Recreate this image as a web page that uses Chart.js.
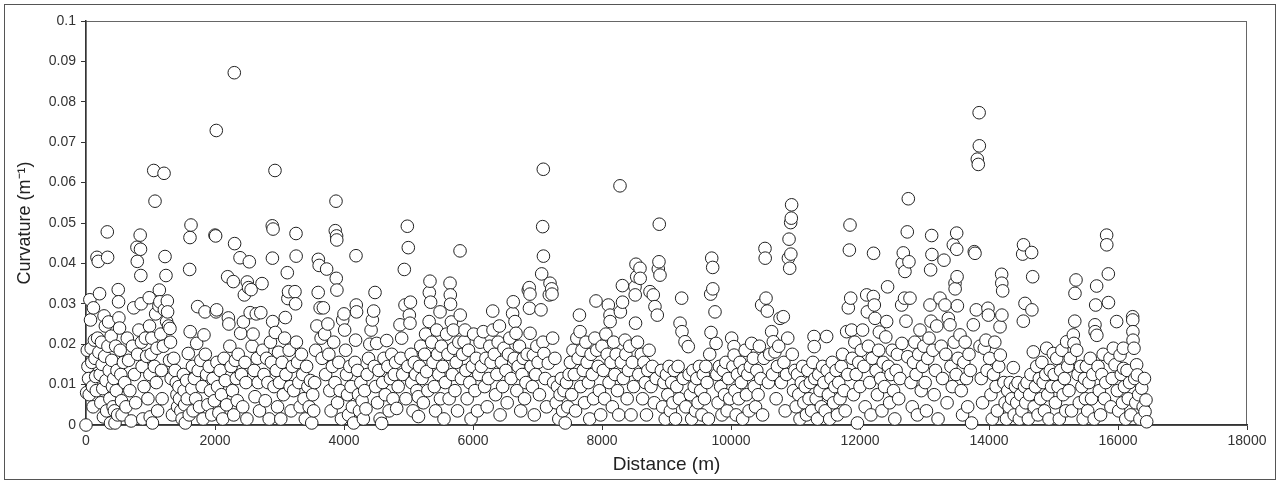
<!DOCTYPE html>
<html>
<head>
<meta charset="utf-8">
<script src="https://cdn.jsdelivr.net/npm/chart.js@4.4.0/dist/chart.umd.min.js"></script>
<style>
  html, body { margin: 0; padding: 0; background: #fff; }
  canvas { display: block; }
</style>
</head>
<body>
<canvas id="curvatureChart" width="1277" height="481"></canvas>
<script>
// [distance (m), curvature (1/m)], one list per ~4 km
const section1 = [
  [0,0],[10,0.008],[20,0.0185],[30,0.0145],[40,0.0115],[50,0.0075],[60,0.031],[70,0.026],[80,0.019],[90,0.0155],[100,0.0095],[110,0.0045],[115,0.029],[130,0.021],[140,0.0165],[150,0.012],[160,0.0085],[170,0.0415],[180,0.0215],[190,0.0405],[200,0.018],[210,0.0325],[220,0.0125],[230,0.0055],[240,0.0205],[250,0.015],[260,0.009],[270,0.002],[280,0.027],[290,0.017],[300,0.0245],[310,0.011],[320,0.0035],[330,0.0478],[335,0.0415],[340,0.0195],[350,0.0255],[360,0.0135],[370,0.0065],[380,0.0005],[390,0.022],[400,0.016],[410,0.0095],[420,0.0045],[430,0.0115],[440,0.0035],[450,0.0005],[460,0.0195],[470,0.0085],[480,0.0135],[490,0.0025],
  [500,0.0335],[505,0.0305],[510,0.0265],[520,0.024],[530,0.0185],[540,0.0125],[550,0.006],[560,0.0025],[580,0.0155],[600,0.0105],[620,0.0045],[640,0.0215],[660,0.016],[680,0.0085],[700,0.001],[720,0.0195],[740,0.029],[750,0.0125],[770,0.0055],[790,0.044],[795,0.0405],[800,0.0175],[820,0.0235],[840,0.047],[845,0.0435],[850,0.037],[855,0.030],[860,0.0205],[870,0.0145],[880,0.0015],[900,0.0095],[920,0.0215],[940,0.017],[960,0.0065],[980,0.0315],[985,0.0245],[990,0.0125],[995,0.002],
  [1010,0.0175],[1020,0.0215],[1030,0.0005],[1050,0.063],[1060,0.0145],[1070,0.0554],[1080,0.0275],[1090,0.0105],[1100,0.019],[1110,0.0035],[1130,0.0295],[1137,0.0334],[1145,0.0305],[1160,0.0225],[1170,0.0135],[1180,0.0065],[1200,0.0195],[1210,0.0623],[1215,0.0285],[1225,0.0417],[1240,0.037],[1250,0.0256],[1261,0.0307],[1265,0.028],[1280,0.0245],[1295,0.016],[1302,0.0239],[1310,0.0205],[1320,0.0115],[1340,0.0025],[1360,0.0165],[1380,0.0135],[1400,0.0105],[1410,0.0075],[1420,0.0045],[1440,0.0095],[1450,0.0065],[1470,0.0035],[1490,0.0015],
  [1510,0.0125],[1520,0.0085],[1530,0.005],[1540,0.0005],[1560,0.011],[1570,0.0065],[1586,0.0177],[1600,0.0025],[1607,0.0385],[1612,0.0464],[1615,0.0231],[1628,0.0495],[1640,0.009],[1650,0.0145],[1660,0.0035],[1680,0.0115],[1700,0.0065],[1716,0.0202],[1731,0.0293],[1740,0.0135],[1760,0.0045],[1780,0.016],[1800,0.0095],[1815,0.0015],[1829,0.0223],[1845,0.028],[1850,0.0175],[1870,0.0125],[1890,0.005],[1910,0.0145],[1930,0.0085],[1950,0.0025],[1970,0.0115],[1990,0.006],
  [2000,0.047],[2010,0.0468],[2016,0.028],[2020,0.0729],[2026,0.0285],[2030,0.0155],[2040,0.0095],[2060,0.003],[2080,0.0135],[2100,0.0075],[2120,0.0015],[2140,0.0165],[2160,0.011],[2180,0.005],[2196,0.0367],[2207,0.0265],[2215,0.025],[2230,0.0195],[2250,0.0145],[2270,0.0085],[2284,0.0355],[2290,0.0025],[2299,0.0872],[2304,0.0449],[2315,0.016],[2330,0.0115],[2345,0.006],[2360,0.0175],[2388,0.0414],[2398,0.0227],[2410,0.0125],[2430,0.0045],[2440,0.0255],[2455,0.0322],[2465,0.0155],[2480,0.0105],[2495,0.0015],
  [2500,0.0354],[2520,0.034],[2532,0.0404],[2545,0.0278],[2560,0.0335],[2575,0.0195],[2590,0.0225],[2605,0.0135],[2620,0.007],[2640,0.0275],[2655,0.0165],[2670,0.0105],[2690,0.0035],[2710,0.0278],[2729,0.035],[2740,0.0185],[2760,0.0125],[2780,0.006],[2800,0.0165],[2820,0.0105],[2840,0.0015],[2860,0.0205],[2875,0.0155],[2888,0.0493],[2890,0.0413],[2894,0.0256],[2900,0.0485],[2915,0.0095],[2930,0.063],[2935,0.0229],[2950,0.0135],[2970,0.0045],[2985,0.018],
  [3000,0.0105],[3020,0.0015],[3040,0.0155],[3060,0.0075],[3080,0.0215],[3090,0.0266],[3100,0.0125],[3121,0.0377],[3130,0.0313],[3140,0.033],[3150,0.0185],[3165,0.0095],[3180,0.0035],[3200,0.0145],[3220,0.0085],[3240,0.033],[3250,0.030],[3256,0.0474],[3258,0.0418],[3262,0.0205],[3280,0.0155],[3300,0.0105],[3320,0.0045],[3340,0.0175],[3360,0.0125],[3380,0.0065],[3400,0.0015],[3420,0.0145],[3440,0.0095],[3460,0.0045],[3480,0.011],
  [3500,0.0005],[3515,0.0075],[3530,0.0035],[3545,0.0105],[3560,0.0185],[3580,0.0245],[3600,0.0328],[3602,0.041],[3615,0.0395],[3630,0.029],[3645,0.0215],[3660,0.0165],[3680,0.029],[3700,0.0225],[3715,0.0125],[3731,0.0386],[3750,0.025],[3765,0.0175],[3780,0.0085],[3800,0.0035],[3820,0.0145],[3840,0.0205],[3860,0.0105],[3865,0.0481],[3876,0.0554],[3880,0.0363],[3885,0.0468],[3888,0.0458],[3890,0.0334],[3900,0.0055],[3920,0.0155],[3940,0.0085],[3960,0.0015],[3980,0.026]
];

const section2 = [
  [4000,0.0275],[4010,0.0235],[4025,0.0185],[4040,0.0125],[4055,0.0075],[4070,0.0025],[4090,0.0145],[4110,0.0095],[4130,0.0045],[4150,0.0005],[4170,0.0155],[4180,0.021],[4186,0.0419],[4190,0.0297],[4195,0.028],[4210,0.0135],[4225,0.0075],[4240,0.0035],[4260,0.0105],[4280,0.006],[4300,0.0015],[4320,0.0085],[4340,0.004],[4360,0.0125],[4380,0.0165],[4400,0.02],[4420,0.0235],[4440,0.026],[4460,0.0282],[4470,0.0145],[4481,0.0328],[4490,0.0095],
  [4506,0.0202],[4520,0.0055],[4540,0.0135],[4560,0.0015],[4584,0.0004],[4600,0.0105],[4620,0.0165],[4640,0.0075],[4662,0.0209],[4680,0.0145],[4700,0.0035],[4720,0.0115],[4740,0.0175],[4760,0.0065],[4780,0.0125],[4800,0.0155],[4817,0.0041],[4840,0.0095],[4868,0.0248],[4880,0.0165],[4894,0.0215],[4910,0.0125],[4935,0.0385],[4946,0.0297],[4960,0.0065],[4982,0.0492],[4990,0.0145],[4997,0.0439],
  [5013,0.0272],[5023,0.0252],[5030,0.0304],[5040,0.0175],[5050,0.0105],[5070,0.0035],[5090,0.0155],[5110,0.0125],[5130,0.0085],[5152,0.007],[5155,0.0021],[5170,0.0145],[5190,0.0195],[5210,0.0115],[5230,0.0055],[5250,0.0175],[5265,0.0225],[5281,0.0132],[5300,0.0085],[5320,0.0256],[5323,0.0328],[5333,0.0356],[5343,0.0304],[5360,0.0205],[5380,0.0155],[5400,0.0095],[5420,0.0035],[5437,0.0235],[5450,0.0175],[5470,0.0125],[5489,0.028],[5495,0.0065],
  [5510,0.0195],[5530,0.0145],[5550,0.0015],[5570,0.0105],[5590,0.0225],[5610,0.0175],[5630,0.0065],[5644,0.0351],[5648,0.0322],[5652,0.0299],[5665,0.0255],[5680,0.0125],[5695,0.0235],[5700,0.019],[5720,0.0085],[5740,0.0155],[5760,0.0035],[5780,0.0205],[5799,0.0431],[5802,0.0272],[5820,0.0115],[5840,0.0175],[5861,0.0206],[5876,0.0235],[5890,0.0135],[5910,0.0065],[5930,0.0185],[5950,0.0105],[5970,0.0015],[5990,0.0145],
  [6010,0.0225],[6030,0.0085],[6050,0.0165],[6070,0.0035],[6090,0.0125],[6110,0.0205],[6130,0.0145],[6160,0.0231],[6180,0.0095],[6200,0.0165],[6220,0.0045],[6240,0.0115],[6260,0.0195],[6280,0.0155],[6306,0.0282],[6310,0.0235],[6330,0.0175],[6350,0.0075],[6370,0.0125],[6390,0.0205],[6410,0.0245],[6420,0.0025],[6440,0.0155],[6460,0.0095],[6480,0.019],
  [6510,0.0135],[6530,0.0055],[6550,0.0175],[6570,0.0215],[6590,0.0115],[6614,0.0276],[6624,0.0305],[6640,0.0165],[6651,0.0256],[6667,0.0227],[6680,0.0085],[6700,0.0145],[6720,0.0195],[6740,0.0035],[6760,0.0125],[6780,0.0165],[6800,0.0065],[6820,0.0105],[6840,0.0175],[6857,0.0334],[6872,0.034],[6875,0.0289],[6883,0.0324],[6885,0.0227],[6900,0.0145],[6920,0.0095],[6935,0.0173],[6950,0.0025],[6970,0.0125],[6990,0.0195],
  [7010,0.0155],[7030,0.0075],[7054,0.0285],[7065,0.0374],[7080,0.0491],[7085,0.0205],[7090,0.0633],[7092,0.0418],[7100,0.0177],[7120,0.0115],[7140,0.0045],[7167,0.0153],[7183,0.0322],[7194,0.0351],[7220,0.0337],[7225,0.0324],[7235,0.0215],[7250,0.0105],[7270,0.0165],[7290,0.0055],[7310,0.0095],[7330,0.0015],[7350,0.0075],[7370,0.0115],[7390,0.0035],[7410,0.0085],[7430,0.0005],[7450,0.0105],[7470,0.0045],[7490,0.0125],
  [7510,0.0155],[7530,0.0075],[7550,0.0185],[7570,0.0125],[7590,0.0035],[7610,0.0215],[7630,0.0165],[7650,0.0272],[7660,0.0231],[7670,0.0095],[7690,0.0185],[7710,0.0135],[7730,0.0055],[7750,0.0205],[7770,0.0155],[7790,0.0105],[7810,0.0015],[7830,0.0175],[7850,0.0125],[7870,0.0065],[7890,0.0215],[7907,0.0307],[7920,0.0185],[7940,0.0145],[7960,0.0085],[7980,0.0025]
];

const section3 = [
  [8000,0.0195],[8020,0.0135],[8040,0.0065],[8060,0.0225],[8080,0.0175],[8098,0.0297],[8110,0.0105],[8124,0.0272],[8126,0.0256],[8140,0.0155],[8160,0.0045],[8180,0.0205],[8200,0.0125],[8220,0.0175],[8240,0.0085],[8260,0.0025],[8279,0.0592],[8285,0.028],[8300,0.0155],[8316,0.0345],[8318,0.0304],[8330,0.0115],[8357,0.021],[8370,0.0175],[8390,0.0065],[8410,0.0135],[8430,0.0195],[8450,0.0025],[8470,0.0155],[8490,0.0095],
  [8512,0.0342],[8515,0.0322],[8520,0.0252],[8527,0.0398],[8538,0.0367],[8550,0.0205],[8570,0.0125],[8589,0.0388],[8592,0.0363],[8610,0.0175],[8630,0.0065],[8650,0.0155],[8670,0.0105],[8690,0.0025],[8710,0.0135],[8730,0.0185],[8744,0.033],[8760,0.0095],[8780,0.0145],[8795,0.0322],[8810,0.0055],[8821,0.0293],[8840,0.0115],[8857,0.0272],[8873,0.0386],[8883,0.0404],[8888,0.0497],[8899,0.0371],[8920,0.0135],[8940,0.0045],[8960,0.0105],[8980,0.0015],
  [9000,0.0125],[9020,0.0075],[9040,0.0145],[9060,0.0035],[9080,0.0105],[9100,0.0055],[9120,0.0135],[9140,0.0015],[9160,0.0095],[9180,0.0145],[9200,0.0065],[9210,0.0252],[9235,0.0314],[9240,0.0231],[9260,0.0115],[9287,0.0206],[9300,0.0045],[9338,0.0194],[9350,0.0125],[9370,0.0075],[9390,0.0015],[9410,0.0135],[9430,0.0095],[9450,0.0035],[9470,0.0115],[9490,0.0055],
  [9510,0.0145],[9530,0.0085],[9550,0.0025],[9570,0.0125],[9590,0.0065],[9610,0.0145],[9630,0.0105],[9650,0.0015],[9670,0.0175],[9685,0.0324],[9690,0.0229],[9701,0.0413],[9716,0.039],[9718,0.0337],[9752,0.028],[9768,0.0202],[9780,0.0125],[9800,0.0055],[9820,0.0145],[9840,0.0095],[9860,0.0025],[9880,0.0135],[9900,0.0075],[9920,0.0155],[9940,0.0035],[9960,0.0115],[9980,0.0065],
  [10010,0.0215],[10030,0.0145],[10046,0.0194],[10048,0.0173],[10060,0.0085],[10080,0.0025],[10100,0.0125],[10120,0.0065],[10140,0.0155],[10160,0.0105],[10180,0.0015],[10200,0.0135],[10220,0.0185],[10240,0.0075],[10260,0.0125],[10280,0.0035],[10300,0.0145],[10320,0.0202],[10346,0.0165],[10360,0.0095],[10380,0.0045],[10400,0.0135],[10420,0.0075],[10440,0.0195],[10460,0.0115],[10475,0.0297],[10490,0.0025],
  [10510,0.0165],[10527,0.0437],[10530,0.0413],[10543,0.0314],[10563,0.0282],[10580,0.0105],[10600,0.0175],[10630,0.0231],[10645,0.0125],[10656,0.0206],[10682,0.0181],[10700,0.0065],[10720,0.0145],[10740,0.0195],[10760,0.0264],[10780,0.0105],[10811,0.0268],[10820,0.0155],[10840,0.0035],[10860,0.0125],[10880,0.0215],[10890,0.0413],[10900,0.046],[10910,0.0388],[10925,0.0501],[10928,0.0423],[10935,0.0512],[10940,0.0545],[10950,0.0175],[10970,0.0085],[10990,0.0135],
  [11010,0.0045],[11030,0.0125],[11050,0.0075],[11070,0.0015],[11090,0.0105],[11110,0.0145],[11130,0.0055],[11150,0.0095],[11170,0.0025],[11190,0.0135],[11210,0.0065],[11230,0.0105],[11250,0.0035],[11270,0.0155],[11287,0.0219],[11290,0.0194],[11300,0.0115],[11320,0.0065],[11340,0.0015],[11360,0.0125],[11380,0.0085],[11400,0.0045],[11420,0.0145],[11440,0.0105],[11460,0.0035],[11483,0.0219],[11490,0.0135],
  [11510,0.0075],[11530,0.0015],[11550,0.0115],[11570,0.0155],[11590,0.0055],[11610,0.0095],[11630,0.0135],[11650,0.0025],[11670,0.0105],[11690,0.0065],[11710,0.0145],[11730,0.0175],[11750,0.0085],[11770,0.0035],[11793,0.0231],[11810,0.0125],[11819,0.029],[11835,0.0433],[11845,0.0495],[11856,0.0314],[11870,0.0235],[11880,0.0165],[11900,0.0075],[11920,0.0205],[11940,0.0125],[11960,0.0005],[11980,0.0155]
];

const section4 = [
  [12000,0.0095],[12020,0.0185],[12040,0.0235],[12060,0.0145],[12080,0.0045],[12104,0.0322],[12114,0.028],[12130,0.0195],[12150,0.0105],[12170,0.0025],[12190,0.0165],[12207,0.0318],[12210,0.0425],[12222,0.0297],[12233,0.0264],[12250,0.0135],[12270,0.0075],[12290,0.0185],[12300,0.023],[12320,0.0115],[12340,0.0035],[12360,0.0155],[12380,0.0095],[12400,0.0218],[12413,0.0256],[12428,0.0342],[12440,0.0145],[12460,0.0055],[12480,0.0125],
  [12500,0.0185],[12520,0.0085],[12540,0.0015],[12560,0.0135],[12580,0.0175],[12600,0.0065],[12620,0.0115],[12646,0.0297],[12650,0.0202],[12655,0.040],[12671,0.0426],[12690,0.0314],[12697,0.038],[12713,0.0257],[12733,0.0478],[12740,0.0169],[12749,0.056],[12759,0.0404],[12775,0.0314],[12790,0.0105],[12810,0.0045],[12830,0.0155],[12850,0.0205],[12870,0.0125],[12890,0.0025],[12910,0.0175],[12930,0.0235],[12950,0.0085],[12970,0.0145],[12990,0.0195],
  [13010,0.0105],[13030,0.0035],[13050,0.0165],[13070,0.0215],[13085,0.0297],[13095,0.0384],[13101,0.0257],[13111,0.0469],[13115,0.0422],[13130,0.0185],[13150,0.0075],[13170,0.0135],[13190,0.0245],[13210,0.0015],[13240,0.0314],[13260,0.0195],[13280,0.0115],[13302,0.0408],[13318,0.0297],[13330,0.0175],[13350,0.0055],[13370,0.0264],[13395,0.0248],[13410,0.0145],[13430,0.0095],[13447,0.0446],[13460,0.0205],[13473,0.0351],[13475,0.0337],[13490,0.0125],[13499,0.0475],
  [13500,0.0435],[13505,0.0367],[13510,0.0295],[13520,0.0165],[13550,0.0223],[13570,0.0085],[13590,0.0025],[13610,0.0155],[13630,0.0205],[13650,0.0115],[13670,0.0045],[13690,0.0175],[13710,0.0135],[13730,0.0005],[13757,0.0248],[13772,0.0429],[13783,0.0425],[13803,0.0285],[13819,0.0658],[13834,0.0645],[13847,0.0773],[13850,0.0691],[13860,0.0195],[13880,0.0115],[13900,0.0055],[13927,0.019],[13953,0.021],[13970,0.0135],[13984,0.0289],[13990,0.0272],
  [14010,0.0165],[14030,0.0075],[14050,0.0015],[14070,0.0125],[14090,0.0205],[14110,0.0095],[14130,0.0035],[14150,0.0145],[14171,0.0243],[14175,0.0173],[14196,0.0373],[14198,0.0351],[14200,0.0272],[14212,0.0332],[14230,0.0105],[14250,0.0055],[14270,0.0015],[14290,0.0085],[14310,0.0045],[14330,0.0105],[14350,0.0065],[14377,0.0142],[14390,0.0025],[14410,0.0095],[14430,0.0055],[14450,0.0105],[14470,0.0015],[14490,0.0075],
  [14510,0.0035],[14522,0.0423],[14532,0.0257],[14535,0.0446],[14550,0.0095],[14558,0.0301],[14570,0.0055],[14590,0.0105],[14610,0.0015],[14630,0.0075],[14650,0.0125],[14661,0.0427],[14665,0.0285],[14677,0.0367],[14687,0.0181],[14700,0.0045],[14720,0.0095],[14740,0.0145],[14760,0.0025],[14780,0.0115],[14800,0.0065],[14820,0.0155],[14840,0.0105],[14860,0.0035],[14880,0.0125],[14894,0.019],[14910,0.0075],[14930,0.0015],[14950,0.0135],[14970,0.0095],[14997,0.0177],
  [15010,0.0125],[15030,0.0055],[15050,0.0165],[15070,0.0095],[15090,0.0015],[15110,0.0135],[15130,0.0185],[15150,0.0075],[15170,0.0115],[15190,0.0035],[15204,0.0206],[15220,0.0145],[15240,0.0085],[15260,0.0165],[15280,0.0035],[15307,0.0223],[15317,0.0202],[15330,0.0257],[15333,0.0326],[15349,0.0359],[15360,0.0185],[15380,0.0125],[15400,0.0055],[15420,0.0145],[15440,0.0095],[15460,0.0015],[15480,0.0115],[15495,0.0065],
  [15510,0.0145],[15530,0.0035],[15550,0.0105],[15570,0.0165],[15590,0.0065],[15610,0.0125],[15630,0.0015],[15643,0.0248],[15645,0.0231],[15654,0.0297],[15669,0.0344],[15672,0.0222],[15690,0.0145],[15710,0.0085],[15730,0.0025],[15750,0.0125],[15770,0.0175],[15790,0.0065],[15810,0.0105],[15824,0.047],[15826,0.0446],[15850,0.0374],[15852,0.0303],[15876,0.0165],[15890,0.0045],[15910,0.0115],[15928,0.019],[15954,0.0149],[15979,0.0256],[15990,0.0085],
  [16010,0.0035],[16031,0.0173],[16050,0.0125],[16070,0.0055],[16083,0.019],[16085,0.014],[16100,0.0095],[16120,0.0015],[16140,0.0135],[16160,0.0065],[16180,0.0105],[16200,0.0025],[16227,0.0268],[16229,0.026],[16231,0.0231],[16233,0.021],[16248,0.019],[16260,0.0115],[16275,0.0055],[16289,0.0149],[16299,0.0124],[16320,0.0075],[16340,0.0015],[16367,0.0091],[16390,0.0045],[16410,0.0115],[16419,0.0033],[16434,0.0062],[16445,0.0008]
];

const xTicks = [0, 2000, 4000, 6000, 8000, 10000, 12000, 14000, 16000, 18000];
const yTicks = [0, 0.01, 0.02, 0.03, 0.04, 0.05, 0.06, 0.07, 0.08, 0.09, 0.1];
const xTitle = 'Distance (m)';
const yTitle = 'Curvature (m\u207B\u00B9)';

const points = [...section1, ...section2, ...section3, ...section4]
  .map(p => ({ x: p[0], y: p[1] }));

// white page, thin outer frame and the box round the plot area
const framePlugin = {
  id: 'frame',
  beforeDraw(chart) {
    const ctx = chart.ctx;
    const a = chart.chartArea;
    ctx.save();
    ctx.fillStyle = '#fff';
    ctx.fillRect(0, 0, chart.width, chart.height);
    ctx.strokeStyle = '#555';
    ctx.lineWidth = 1;
    ctx.strokeRect(4.5, 4.5, chart.width - 6, chart.height - 6);
    ctx.strokeStyle = '#666';
    ctx.strokeRect(a.left, a.top + 0.5, a.right - a.left - 0.5, a.bottom - a.top);
    ctx.restore();
  }
};

const fontFamily = 'Liberation Sans, Arial, sans-serif';
const tickFont = { family: fontFamily, size: 14 };

new Chart(document.getElementById('curvatureChart'), {
  type: 'scatter',
  data: {
    datasets: [{
      data: points,
      pointRadius: 6.3,
      pointBorderWidth: 1,
      pointBorderColor: '#222',
      pointBackgroundColor: '#fff',
      pointHoverRadius: 6.3,
      clip: false
    }]
  },
  options: {
    responsive: false,
    animation: false,
    events: [],
    layout: { padding: { top: 21, right: 30, left: 0, bottom: 0 } },
    plugins: {
      legend: { display: false },
      tooltip: { enabled: false }
    },
    scales: {
      x: {
        type: 'linear',
        min: 0,
        max: 18000,
        afterBuildTicks: s => { s.ticks = xTicks.map(v => ({ value: v })); },
        afterFit: s => { s.height = 56; },
        grid: { drawOnChartArea: false, drawTicks: true, tickLength: 5, color: '#333' },
        border: { display: true, color: '#333', width: 1.5 },
        ticks: { color: '#333', font: tickFont, padding: 3, maxRotation: 0, callback: v => String(v) },
        title: { display: true, text: xTitle, color: '#222',
                 font: { family: fontFamily, size: 19 },
                 padding: { top: 0, bottom: 5 } }
      },
      y: {
        type: 'linear',
        min: 0,
        max: 0.1,
        afterBuildTicks: s => { s.ticks = yTicks.map(v => ({ value: v })); },
        afterFit: s => { s.width = 86; },
        grid: { drawOnChartArea: false, drawTicks: true, tickLength: 5, color: '#333' },
        border: { display: true, color: '#333', width: 1.5 },
        ticks: { color: '#333', font: tickFont, padding: 5, callback: v => String(v) },
        title: { display: true, text: yTitle, color: '#222',
                 font: { family: fontFamily, size: 18 },
                 padding: { top: 14, bottom: 0 } }
      }
    }
  },
  plugins: [framePlugin]
});
</script>
</body>
</html>
